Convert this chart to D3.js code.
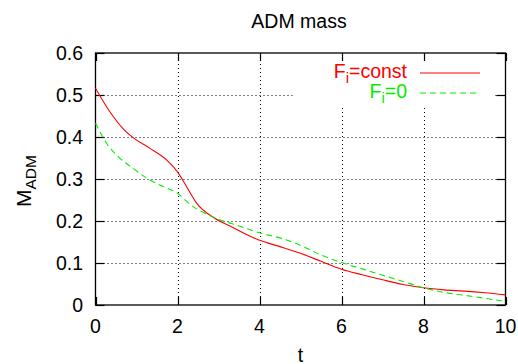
<!DOCTYPE html>
<html><head><meta charset="utf-8">
<script src="https://cdn.jsdelivr.net/npm/d3@7"></script>
<style>
body{margin:0;background:#fff;}
text{font-family:"Liberation Sans",Arial,Helvetica,sans-serif;}
</style></head>
<body><svg id="c" width="518" height="364"></svg>
<script>
const xTicks = [0, 2, 4, 6, 8, 10];
const yTicks = [0, 0.1, 0.2, 0.3, 0.4, 0.5, 0.6];
const tConst = [0, 0.35, 0.68, 0.95, 1.33, 1.74, 2.0, 2.22, 2.47, 2.85, 3.28, 4.0, 4.5, 5.0, 5.5, 6.0, 6.5, 7.0, 7.5, 8.0, 8.5, 9.0, 9.5, 10.0];
const mConst = [0.516, 0.460, 0.419, 0.396, 0.373, 0.345, 0.317, 0.282, 0.242, 0.210, 0.188, 0.154, 0.139, 0.123, 0.104, 0.085, 0.072, 0.060, 0.049, 0.041, 0.036, 0.033, 0.029, 0.024];
const tZero = [0, 0.27, 0.6, 0.92, 1.25, 1.65, 2.0, 2.3, 2.85, 3.44, 4.0, 4.66, 5.07, 5.5, 6.0, 6.5, 7.0, 7.5, 8.0, 8.5, 9.0, 9.5, 10.0];
const mZero = [0.433, 0.385, 0.349, 0.325, 0.302, 0.282, 0.266, 0.240, 0.210, 0.190, 0.172, 0.155, 0.139, 0.119, 0.101, 0.086, 0.071, 0.056, 0.041, 0.030, 0.023, 0.016, 0.008];

const svg = d3.select("#c");
const L = 95.5, R = 505.5, T = 53, B = 305;
const x = d3.scaleLinear().domain([0, 10]).range([L, R]);
const y = d3.scaleLinear().domain([0, 0.6]).range([B, T]);
const fs = 19.5;

// grid
const grid = svg.append("g").attr("stroke", "#000").attr("stroke-width", 1).attr("stroke-dasharray", "1,3");
yTicks.filter(v => v > 0 && v < 0.6).forEach(v => {
  grid.append("line").attr("x1", L).attr("x2", R).attr("y1", Math.round(y(v)) + 0.5).attr("y2", Math.round(y(v)) + 0.5);
});
xTicks.filter(v => v > 0 && v < 10).forEach(v => {
  grid.append("line").attr("y1", B).attr("y2", T).attr("x1", Math.round(x(v)) + 0.5).attr("x2", Math.round(x(v)) + 0.5);
});
// legend key box blanks the grid
svg.append("rect").attr("x", 294).attr("y", T + 1).attr("width", 201).attr("height", 51).attr("fill", "#fff");

// ticks (mirrored, inward)
const tk = svg.append("g").attr("stroke", "#000").attr("stroke-width", 1.2);
yTicks.forEach(v => {
  const yy = Math.round(y(v)) + 0.5;
  tk.append("line").attr("x1", L).attr("x2", L + 9).attr("y1", yy).attr("y2", yy);
  tk.append("line").attr("x1", R).attr("x2", R - 9).attr("y1", yy).attr("y2", yy);
});
xTicks.forEach(v => {
  const xx = Math.round(x(v)) + 0.5;
  tk.append("line").attr("y1", B).attr("y2", B - 8).attr("x1", xx).attr("x2", xx);
  tk.append("line").attr("y1", T).attr("y2", T + 8).attr("x1", xx).attr("x2", xx);
});
svg.append("rect").attr("x", L).attr("y", T).attr("width", R - L).attr("height", B - T)
  .attr("fill", "none").attr("stroke", "#000").attr("stroke-width", 1.3);

// tick labels
yTicks.forEach(v => {
  svg.append("text").attr("x", 83).attr("y", y(v) + 7).attr("text-anchor", "end")
    .attr("font-size", fs).text(v === 0 ? "0" : d3.format(".1f")(v));
});
xTicks.forEach(v => {
  svg.append("text").attr("x", x(v)).attr("y", 332.5).attr("text-anchor", "middle")
    .attr("font-size", fs).text(v);
});

// titles
svg.append("text").attr("x", 299).attr("y", 27.5).attr("text-anchor", "middle").attr("font-size", fs).text("ADM mass");
svg.append("text").attr("x", 300.5).attr("y", 361.5).attr("text-anchor", "middle").attr("font-size", fs).text("t");
const yl = svg.append("text").attr("transform", "translate(31,181) rotate(-90)").attr("text-anchor", "middle").attr("font-size", 21);
yl.append("tspan").text("M");
yl.append("tspan").attr("dy", 5).attr("font-size", 15.5).text("ADM");

// curves
const line = d3.line().x(d => x(d[0])).y(d => y(d[1])).curve(d3.curveMonotoneX);
svg.append("path").datum(tConst.map((t, i) => [t, mConst[i]])).attr("d", line)
  .attr("fill", "none").attr("stroke", "#ff0000").attr("stroke-width", 1.1);
svg.append("path").datum(tZero.map((t, i) => [t, mZero[i]])).attr("d", line)
  .attr("fill", "none").attr("stroke", "#00ee00").attr("stroke-width", 1.1).attr("stroke-dasharray", "6,4");

// legend
const leg = [["const", "#ff0000", null, 77.5, 73], ["0", "#00ee00", "6,4", 97.5, 93]];
leg.forEach(([lab, col, dash, by, ly]) => {
  const t = svg.append("text").attr("x", 407).attr("y", by).attr("text-anchor", "end").attr("font-size", fs).attr("fill", col);
  t.append("tspan").text("F");
  t.append("tspan").attr("dy", 5).attr("font-size", 15).text("i");
  t.append("tspan").attr("dy", -5).text("=" + lab);
  svg.append("line").attr("x1", 420).attr("x2", 480).attr("y1", ly).attr("y2", ly)
    .attr("stroke", col).attr("stroke-width", 1.1).attr("stroke-dasharray", dash);
});
</script></body></html>
